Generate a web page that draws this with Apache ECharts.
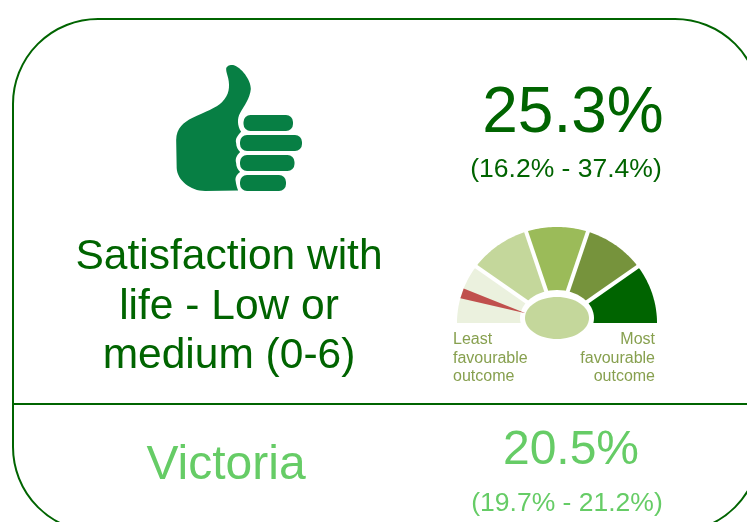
<!DOCTYPE html>
<html>
<head>
<meta charset="utf-8">
<style>
  html, body { margin: 0; padding: 0; background: #fff; }
  #main { width: 747px; height: 522px; }
</style>
<script src="https://cdn.jsdelivr.net/npm/echarts@6/dist/echarts.min.js"></script>
</head>
<body>
<div id="main"></div>
<script>
// values
var topic = ["Satisfaction with", "life - Low or", "medium (0-6)"];
var mainValue = "25.3%";
var mainRange = "(16.2% - 37.4%)";
var compareName = "Victoria";
var compareValue = "20.5%";
var compareRange = "(19.7% - 21.2%)";
var leastLabel = ["Least", "favourable", "outcome"];
var mostLabel = ["Most", "favourable", "outcome"];

// gauge: five equal bands, needle sits in the middle of the first one
var bandSizes = [1, 1, 1, 1, 1];
var bandColors = ["#EBF1DE", "#C4D79B", "#9BBB59", "#76933C", "#006400"];
var needleValue = 0.5;

var DARK = "#006400";
var LIGHT = "#66CC66";
var THUMB = "#077F44";
var SMALL = "#87A04F";
var FONT = "Liberation Sans";

var thumbPath = "M226 69 C226 66 230 64.5 233 65 C241 67 251 80 250.7 89 C250 98 244 106 240 113 " +
  "C237 118 237 126 241 131.7 C237 136 235 139 236 143 C236 147 238 150 240 152 " +
  "C236 156 235 159 236 163 C236 167 238 170 240 172 C236 175 235 178 235.5 181 " +
  "C236 185 237 188 238 190.5 L205 191 C190 191 177 180 176.5 168 L176 140 " +
  "C176 128 184 122 192 118 C205 112 216 108 222 102 C229 95 230 87 228 78 C227 74 226 72 226 69 Z";

var total = bandSizes.reduce(function (a, b) { return a + b; }, 0);

function point(api, v, r) {
  // v is on the gauge scale, 0 = far left, total = far right
  var a = Math.PI * (1 - v / total);
  return api.coord([r * Math.cos(a), r * Math.sin(a)]);
}

var bandData = [];
var run = 0;
bandSizes.forEach(function (s) {
  bandData.push([run, run + s]);
  run += s;
});

function renderBand(params, api) {
  var from = api.value(0), to = api.value(1);
  var pts = [point(api, from, 0)];
  for (var k = 0; k <= 30; k++) {
    pts.push(point(api, from + (to - from) * k / 30, 1));
  }
  var kids = [{
    type: "polygon",
    shape: { points: pts },
    style: { fill: bandColors[params.dataIndex] }
  }];
  if (to < total) {
    var a = point(api, to, 0), b = point(api, to, 1.1);
    kids.push({
      type: "line",
      z2: 5,
      shape: { x1: a[0], y1: a[1], x2: b[0], y2: b[1] },
      style: { stroke: "#fff", lineWidth: 4 }
    });
  }
  return { type: "group", children: kids };
}

function renderHub(params, api) {
  var c = api.coord([0, api.value(0)]);
  var size = api.size([api.value(1), api.value(2)]);
  return {
    type: "ellipse",
    shape: { cx: c[0], cy: c[1], rx: size[0], ry: size[1] },
    style: { fill: api.value(3) === 1 ? "#C4D79B" : "#fff" }
  };
}

function renderNeedle(params, api) {
  var v = api.value(0);
  return {
    type: "polygon",
    shape: { points: [point(api, v, 0.33), point(api, v - 0.085, 1), point(api, v + 0.085, 1)] },
    style: { fill: "#C0504D" }
  };
}

function renderThumb() {
  return {
    type: "path",
    shape: { pathData: thumbPath, x: 176, y: 65, width: 75, height: 126 },
    style: { fill: THUMB }
  };
}

function label(text, x, y, size, color, align) {
  return {
    type: "text",
    x: x,
    y: y,
    silent: true,
    style: {
      text: text,
      fill: color,
      fontFamily: FONT,
      fontSize: size,
      align: align || "center",
      verticalAlign: "middle"
    }
  };
}

function finger(x, y, w) {
  return {
    type: "rect",
    shape: { x: x, y: y, width: w, height: 16, r: 7 },
    style: { fill: THUMB }
  };
}

var graphics = [
  // card outline runs past the right and bottom of the window
  {
    type: "rect",
    shape: { x: 13, y: 19, width: 747, height: 513, r: 85 },
    style: { fill: "none", stroke: DARK, lineWidth: 2 }
  },
  {
    type: "line",
    shape: { x1: 13, y1: 404, x2: 747, y2: 404 },
    style: { stroke: DARK, lineWidth: 2 }
  },
  finger(243.5, 115, 49.5),
  finger(240, 135, 62),
  finger(240, 155, 54.5),
  finger(240, 175, 46),
  label(mainValue, 573, 114, 64, DARK),
  label(mainRange, 566, 170, 26.5, DARK),
  label(topic[0], 229, 257, 42.5, DARK),
  label(topic[1], 229, 307, 42.5, DARK),
  label(topic[2], 229, 356, 42.5, DARK),
  label(compareName, 226, 466, 48, LIGHT),
  label(compareValue, 571, 451, 48, LIGHT),
  label(compareRange, 567, 504, 26.5, LIGHT)
];
leastLabel.forEach(function (t, i) {
  graphics.push(label(t, 453, 340 + i * 18.5, 16, SMALL, "left"));
});
mostLabel.forEach(function (t, i) {
  graphics.push(label(t, 655, 340 + i * 18.5, 16, SMALL, "right"));
});

var option = {
  animation: false,
  graphic: graphics,
  grid: { left: 457, top: 227, width: 200, height: 96 },
  xAxis: { type: "value", min: -1, max: 1, show: false },
  yAxis: { type: "value", min: 0, max: 1, show: false },
  series: [
    {
      type: "custom",
      clip: false,
      z: 2,
      renderItem: renderThumb,
      data: [[0]]
    },
    {
      type: "custom",
      clip: false,
      z: 2,
      renderItem: renderBand,
      data: bandData
    },
    {
      // white ring round the hub
      type: "custom",
      clip: false,
      z: 3,
      renderItem: renderHub,
      data: [[0.052, 0.37, 0.292, 0]]
    },
    {
      type: "custom",
      clip: false,
      z: 4,
      renderItem: renderNeedle,
      data: [[needleValue]]
    },
    {
      type: "custom",
      clip: false,
      z: 5,
      renderItem: renderHub,
      data: [[0.052, 0.32, 0.219, 1]]
    }
  ]
};

var myChart = echarts.init(document.getElementById("main"), null, { renderer: "canvas" });
myChart.setOption(option);
</script>
</body>
</html>
